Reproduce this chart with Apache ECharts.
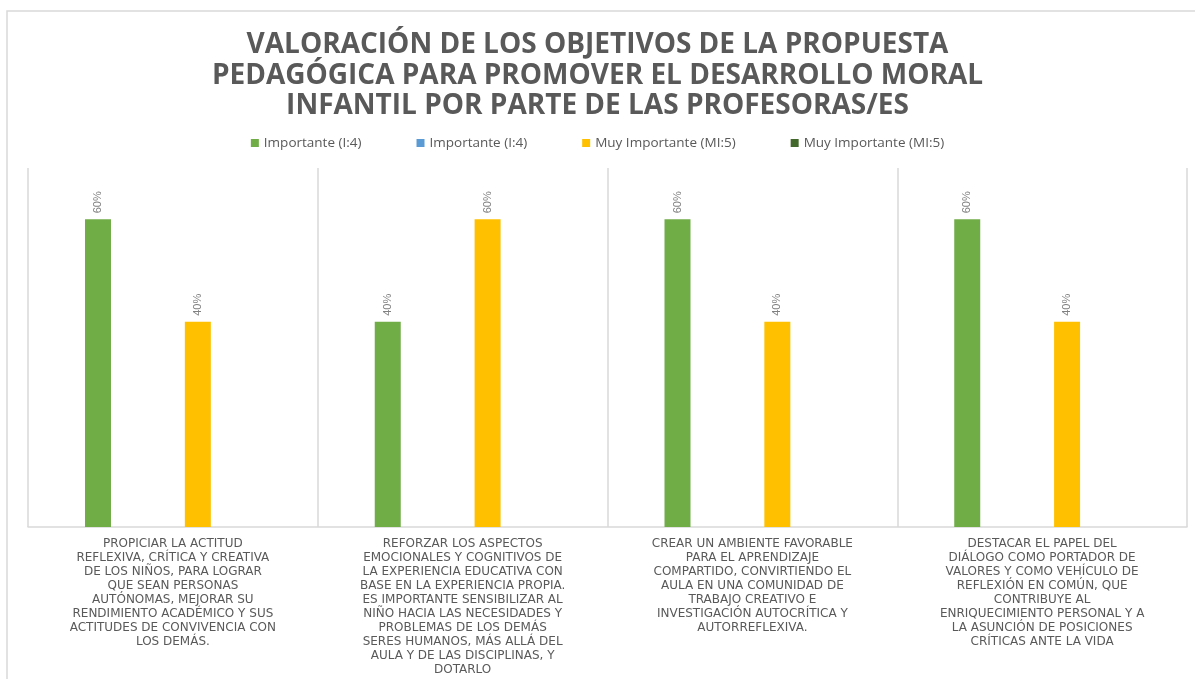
<!DOCTYPE html>
<html>
<head>
<meta charset="utf-8">
<script src="https://cdn.jsdelivr.net/npm/echarts@6/dist/echarts.min.js"></script>
<style>
  html, body { margin: 0; padding: 0; background: #fff; }
  #chart { width: 1195px; height: 679px; }
</style>
</head>
<body>
<div id="chart"></div>
<script>
// categories (line breaks as in the original chart)
var categories = [
  'PROPICIAR LA ACTITUD\nREFLEXIVA, CRÍTICA Y CREATIVA\nDE LOS NIÑOS, PARA LOGRAR\nQUE SEAN PERSONAS\nAUTÓNOMAS, MEJORAR SU\nRENDIMIENTO ACADÉMICO Y SUS\nACTITUDES DE CONVIVENCIA CON\nLOS DEMÁS.',
  'REFORZAR LOS ASPECTOS\nEMOCIONALES Y COGNITIVOS DE\nLA EXPERIENCIA EDUCATIVA CON\nBASE EN LA EXPERIENCIA PROPIA.\nES IMPORTANTE SENSIBILIZAR AL\nNIÑO HACIA LAS NECESIDADES Y\nPROBLEMAS DE LOS DEMÁS\nSERES HUMANOS, MÁS ALLÁ DEL\nAULA Y DE LAS DISCIPLINAS, Y\nDOTARLO',
  'CREAR UN AMBIENTE FAVORABLE\nPARA EL APRENDIZAJE\nCOMPARTIDO, CONVIRTIENDO EL\nAULA EN UNA COMUNIDAD DE\nTRABAJO CREATIVO E\nINVESTIGACIÓN AUTOCRÍTICA Y\nAUTORREFLEXIVA.',
  'DESTACAR EL PAPEL DEL\nDIÁLOGO COMO PORTADOR DE\nVALORES Y COMO VEHÍCULO DE\nREFLEXIÓN EN COMÚN, QUE\nCONTRIBUYE AL\nENRIQUECIMIENTO PERSONAL Y A\nLA ASUNCIÓN DE POSICIONES\nCRÍTICAS ANTE LA VIDA'
];

// series values (share of respondents); the two empty series have no data
var importanteA = [0.6, 0.4, 0.6, 0.6];
var importanteB = [null, null, null, null];
var muyImportanteA = [0.4, 0.6, 0.4, 0.4];
var muyImportanteB = [null, null, null, null];

var seriesNames = ['Importante (I:4)', 'Importante (I:4)', 'Muy Importante (MI:5)', 'Muy Importante (MI:5)'];
var seriesColors = ['#70ad47', '#5b9bd5', '#ffc000', '#43682b'];
var seriesData = [importanteA, importanteB, muyImportanteA, muyImportanteB];

var chart = echarts.init(document.getElementById('chart'));

// two names repeat, so pad them with zero-width spaces to keep legend entries apart
function uid(i) { return seriesNames[i] + '\u200b'.repeat(i); }

function makeSeries(i) {
  return {
    name: uid(i),
    type: 'bar',
    data: seriesData[i],
    barWidth: 26,
    barGap: '92%',
    barCategoryGap: '39%',
    itemStyle: { color: seriesColors[i] },
    label: {
      show: true,
      position: 'top',
      rotate: 90,
      align: 'left',
      verticalAlign: 'middle',
      distance: 6,
      color: '#808080',
      fontFamily: 'Liberation Sans Narrow, Liberation Sans',
      fontSize: 11,
      formatter: function (p) {
        return p.value == null ? '' : Math.round(p.value * 100) + '%';
      }
    }
  };
}

chart.setOption({
  animation: false,
  backgroundColor: '#fff',
  graphic: [{
    type: 'rect',
    shape: { x: 7, y: 11, width: 1200, height: 680 },
    style: { fill: null, stroke: '#d9d9d9', lineWidth: 1.5 },
    z: -1
  }],
  title: {
    text: 'VALORACIÓN DE LOS OBJETIVOS DE LA PROPUESTA\nPEDAGÓGICA PARA PROMOVER EL DESARROLLO MORAL\nINFANTIL POR PARTE DE LAS PROFESORAS/ES',
    left: 'center',
    top: 25,
    textStyle: {
      color: '#595959',
      fontFamily: 'Open Sans',
      fontWeight: 'bold',
      fontSize: 28,
      lineHeight: 30.5
    }
  },
  legend: {
    top: 131,
    left: 'center',
    itemWidth: 8,
    itemHeight: 8,
    itemGap: 55,
    icon: 'rect',
    formatter: function (n) { return n.replace(/\u200b/g, ''); },
    textStyle: { color: '#595959', fontSize: 13.5, fontFamily: 'Open Sans' },
    data: [0, 1, 2, 3].map(uid)
  },
  grid: { left: 28, right: 8, top: 168, bottom: 152 },
  xAxis: {
    type: 'category',
    data: categories,
    axisLine: { lineStyle: { color: '#d9d9d9', width: 1.5 } },
    axisTick: { show: false },
    splitLine: { show: true, interval: 0, lineStyle: { color: '#d9d9d9', width: 1.5 } },
    axisLabel: {
      interval: 0,
      margin: 10,
      color: '#595959',
      fontFamily: 'DejaVu Sans',
      fontSize: 12,
      lineHeight: 14
    }
  },
  yAxis: {
    type: 'value',
    min: 0,
    max: 0.7,
    show: false,
    splitLine: { show: false }
  },
  series: [0, 1, 2, 3].map(makeSeries)
});
</script>
</body>
</html>
